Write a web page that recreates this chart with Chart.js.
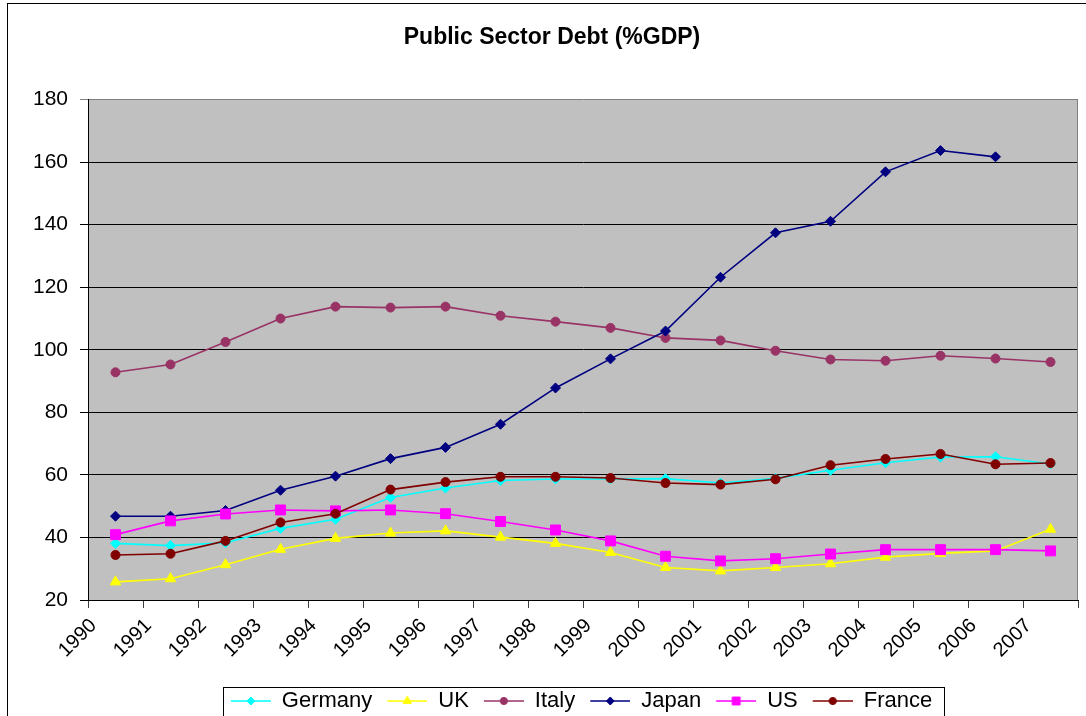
<!DOCTYPE html>
<html>
<head>
<meta charset="utf-8">
<script src="https://cdn.jsdelivr.net/npm/chart.js@4.4.1/dist/chart.umd.min.js"></script>
<style>
html, body { margin: 0; padding: 0; background: #fff; overflow: hidden; }
#wrap { width: 1086px; height: 722px; }
</style>
</head>
<body>
<div id="wrap"><canvas id="chartDeuda"></canvas></div>
<script>
const years = ['1990', '1991', '1992', '1993', '1994', '1995', '1996', '1997', '1998',
               '1999', '2000', '2001', '2002', '2003', '2004', '2005', '2006', '2007'];
const yTicks = [20, 40, 60, 80, 100, 120, 140, 160, 180];

const germany = [38.1, 37.4, 38.3, 42.9, 45.8, 52.8, 55.8, 58.2, 58.7, 58.7, 58.8, 57.4, 58.9, 61.5, 63.9, 65.7, 65.8, 63.5];
const uk      = [25.8, 26.8, 31.3, 36.2, 39.7, 41.4, 42.1, 40.1, 38.1, 35.2, 30.4, 29.3, 30.4, 31.6, 33.7, 34.9, 35.7, 42.6];
const italy   = [92.8, 95.3, 102.5, 110.0, 113.8, 113.5, 113.8, 110.9, 109.0, 107.0, 103.8, 103.0, 99.7, 96.9, 96.5, 98.1, 97.2, 96.1];
const japan   = [46.8, 46.8, 48.6, 55.1, 59.6, 65.2, 68.8, 76.2, 87.8, 97.1, 106.0, 123.2, 137.4, 141.1, 156.9, 163.7, 161.7, null];
const us      = [40.9, 45.3, 47.5, 48.8, 48.5, 48.8, 47.6, 45.1, 42.4, 38.9, 34.0, 32.5, 33.2, 34.7, 36.1, 36.1, 36.1, 35.7];
const france  = [34.4, 34.8, 38.9, 44.8, 47.6, 55.3, 57.7, 59.4, 59.4, 59.0, 57.4, 56.9, 58.6, 63.1, 65.1, 66.7, 63.4, 63.8];

const fuente = 'Liberation Sans, Arial, sans-serif';
const margenIcono = 13;

const series = [
    { label: 'Germany', data: germany, color: '#00FFFF', estilo: 'rectRot', radio: 5 },
    { label: 'UK', data: uk, color: '#FFFF00', estilo: 'triangle', radio: 6 },
    { label: 'Italy', data: italy, color: '#993366', estilo: 'circle', radio: 4.5 },
    { label: 'Japan', data: japan, color: '#000080', estilo: 'rectRot', radio: 5 },
    { label: 'US', data: us, color: '#FF00FF', estilo: 'rect', radio: 7 },
    { label: 'France', data: france, color: '#800000', estilo: 'circle', radio: 4.5 }
];

// icono de leyenda: linea con marcador, con margen transparente a la izquierda
function iconoLeyenda(color, estilo, radio) {
    const c = document.createElement('canvas');
    c.width = margenIcono + 40; c.height = 16;
    const g = c.getContext('2d');
    g.strokeStyle = color; g.lineWidth = 1.6;
    g.beginPath(); g.moveTo(margenIcono, 8); g.lineTo(margenIcono + 40, 8); g.stroke();
    g.fillStyle = color; g.lineWidth = 1;
    if (Chart.helpers && Chart.helpers.drawPoint) {
        Chart.helpers.drawPoint(g, { pointStyle: estilo, radius: radio, rotation: 0, borderWidth: 1 }, margenIcono + 20, 8);
    } else {
        g.beginPath(); g.arc(margenIcono + 20, 8, radio, 0, Math.PI * 2); g.fill();
    }
    return c;
}
const iconos = series.map(s => iconoLeyenda(s.color, s.estilo, s.radio * 0.8));

const fondoGrafico = {
    id: 'fondoGrafico',
    afterLayout(chart) {
        // la leyenda del original queda algo a la izquierda del centro del area
        chart.legend.left -= 8;
        chart.legend.right -= 8;
    },
    beforeDraw(chart) {
        const { ctx, chartArea: a } = chart;
        ctx.save();
        ctx.fillStyle = '#fff';
        ctx.fillRect(0, 0, chart.width, chart.height);
        ctx.strokeStyle = '#000';
        ctx.lineWidth = 1;
        ctx.strokeRect(7.5, 3.5, chart.width + 20, chart.height + 20);
        ctx.fillStyle = '#C0C0C0';
        ctx.fillRect(a.left, a.top, a.right - a.left, a.bottom - a.top);
        ctx.restore();
    },
    beforeDatasetsDraw(chart) {
        const { ctx, chartArea: a } = chart;
        ctx.save();
        ctx.strokeStyle = '#808080';
        ctx.lineWidth = 1;
        ctx.beginPath();
        ctx.moveTo(a.right - 0.5, a.top);
        ctx.lineTo(a.right - 0.5, a.bottom);
        ctx.stroke();
        ctx.restore();
    },
    afterDraw(chart) {
        const cajas = chart.legend.legendHitBoxes;
        if (!cajas || !cajas.length) return;
        const izq = cajas[0].left + margenIcono - 8;
        const ult = cajas[cajas.length - 1];
        const der = ult.left + ult.width + 12;
        const arriba = chart.legend.top - 1;
        const ctx = chart.ctx;
        ctx.save();
        ctx.strokeStyle = '#000';
        ctx.lineWidth = 1;
        ctx.strokeRect(Math.round(izq) + 0.5, Math.round(arriba) + 0.5, Math.round(der - izq), 60);
        ctx.restore();
    }
};

const ctxDeuda = document.getElementById('chartDeuda').getContext('2d');
const deudaChart = new Chart(ctxDeuda, {
    type: 'line',
    data: {
        labels: years,
        datasets: series.map((s, i) => ({
            label: s.label,
            data: s.data,
            borderColor: s.color,
            backgroundColor: s.color,
            borderWidth: 1.6,
            pointStyle: s.estilo,
            pointRadius: s.radio,
            pointHoverRadius: s.radio,
            pointBackgroundColor: s.color,
            pointBorderColor: s.color,
            pointBorderWidth: 1,
            tension: 0,
            spanGaps: false,
            order: series.length - i
        }))
    },
    options: {
        responsive: true,
        maintainAspectRatio: false,
        animation: false,
        devicePixelRatio: 1,
        layout: { padding: { left: 24, right: 6, top: 0, bottom: 0 } },
        plugins: {
            title: {
                display: true,
                text: 'Public Sector Debt (%GDP)',
                color: '#000',
                font: { family: fuente, size: 23, weight: 'bold' },
                padding: { top: 24, bottom: 48 }
            },
            legend: {
                position: 'bottom',
                fullSize: false,
                labels: {
                    usePointStyle: true,
                    pointStyleWidth: margenIcono + 40,
                    padding: 2,
                    color: '#000',
                    font: { family: fuente, size: 22 },
                    generateLabels: chart => chart.data.datasets.map((ds, i) => ({
                        text: ds.label,
                        pointStyle: iconos[i],
                        fillStyle: ds.borderColor,
                        strokeStyle: ds.borderColor,
                        lineWidth: 0,
                        hidden: false,
                        datasetIndex: i
                    }))
                }
            },
            tooltip: { enabled: false }
        },
        scales: {
            x: {
                offset: true,
                afterFit: s => { s.height = 88; },
                grid: { offset: true, drawOnChartArea: false, drawTicks: true, tickLength: 8, color: '#404040' },
                border: { color: '#000', width: 1 },
                ticks: {
                    autoSkip: false,
                    maxRotation: 45,
                    minRotation: 45,
                    labelOffset: -22,
                    padding: 6,
                    color: '#000',
                    font: { family: fuente, size: 20 }
                }
            },
            y: {
                min: 20,
                max: 180,
                afterFit: s => { s.width = 64; },
                afterBuildTicks: s => { s.ticks = yTicks.map(v => ({ value: v })); },
                grid: {
                    color: c => (c.tick && c.tick.value === 180) ? '#808080' : '#000000',
                    lineWidth: 1,
                    tickLength: 8
                },
                border: { color: '#000', width: 1 },
                ticks: {
                    padding: 12,
                    color: '#000',
                    font: { family: fuente, size: 21 }
                }
            }
        }
    },
    plugins: [fondoGrafico]
});
</script>
</body>
</html>
